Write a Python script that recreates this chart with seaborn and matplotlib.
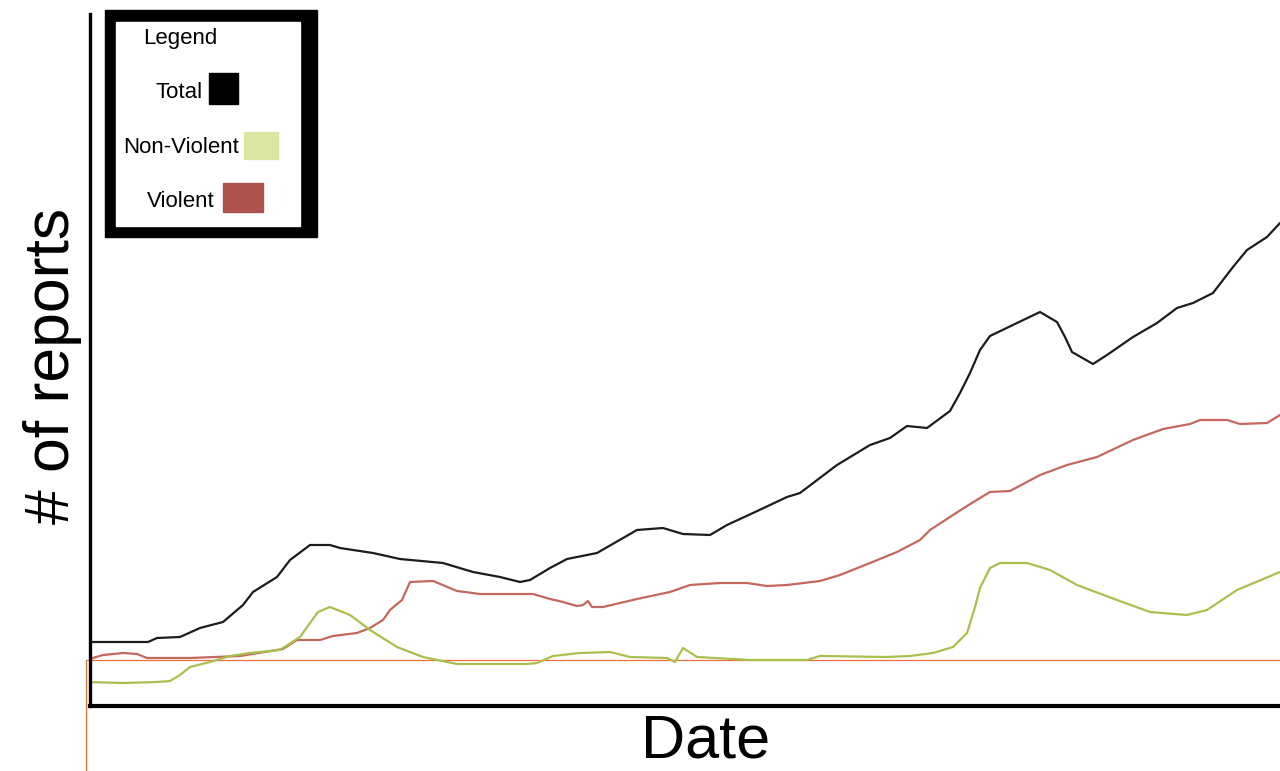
import pandas as pd
import matplotlib.pyplot as plt
import seaborn as sns

# reports over time (x = day index, y = reports)
total_days = [0, 58, 67, 90, 110, 133, 153, 163, 187, 200, 220, 240, 250, 283, 310, 353, 383, 410, 430, 440,
              460, 477, 507, 547, 573, 593, 620, 637, 663, 697, 710, 747, 780, 800, 817, 837, 860, 870, 880, 890,
              900, 927, 950, 967, 975, 982, 1003, 1017, 1043, 1067, 1087, 1103, 1123, 1143, 1157, 1177, 1190]
total_reports = [64, 64, 68, 69, 78, 84, 101, 114, 129, 146, 161, 161, 158, 153, 147, 143, 134, 129, 124, 126,
                 138, 147, 153, 176, 178, 172, 171, 181, 193, 209, 213, 241, 261, 268, 280, 278, 295, 313, 333, 356,
                 370, 383, 394, 384, 369, 354, 342, 351, 369, 383, 398, 403, 413, 439, 456, 469, 483]

violent_days = [-4, 13, 33, 47, 57, 100, 150, 193, 207, 230, 243, 267, 280, 293, 300, 312, 320, 343, 367, 390,
                443, 460, 473, 487, 493, 498, 502, 513, 547, 580, 600, 630, 657, 677, 697, 730, 750, 780, 807, 830,
                840, 863, 877, 890, 900, 920, 950, 977, 1007, 1043, 1073, 1100, 1110, 1137, 1150, 1177, 1190]
violent_reports = [46, 51, 53, 52, 48, 48, 50, 57, 66, 66, 70, 73, 78, 86, 96, 106, 124, 125, 115, 112,
                   112, 107, 104, 100, 101, 105, 99, 99, 107, 114, 121, 123, 123, 120, 121, 125, 131, 143, 154, 166,
                   176, 191, 200, 208, 214, 215, 231, 241, 249, 266, 277, 282, 286, 286, 282, 283, 291]

nonviolent_days = [-4, 33, 67, 80, 90, 100, 120, 140, 160, 190, 210, 228, 240, 260, 280, 307, 333, 367, 437, 447,
                   463, 490, 520, 540, 577, 585, 593, 607, 660, 717, 730, 797, 820, 843, 863, 877, 885, 890, 900, 910,
                   937, 960, 987, 1027, 1060, 1097, 1117, 1147, 1190]
nonviolent_reports = [24, 23, 24, 25, 31, 39, 44, 50, 53, 56, 69, 94, 99, 91, 76, 59, 49, 42, 42, 43,
                      50, 53, 54, 49, 48, 44, 58, 49, 46, 46, 50, 49, 50, 53, 59, 73, 99, 118, 138, 143,
                      143, 136, 121, 106, 94, 91, 96, 116, 134]

baseline = 46
legend_labels = ['Total', 'Non-Violent', 'Violent']
line_colors = {'Total': '#1c1c1c', 'Non-Violent': '#a9c04f', 'Violent': '#c4685d'}
swatch_colors = {'Total': '#000000', 'Non-Violent': '#dce6a4', 'Violent': '#ad524c'}

df = pd.concat([
    pd.DataFrame({'date': total_days, 'reports': total_reports, 'type': 'Total'}),
    pd.DataFrame({'date': violent_days, 'reports': violent_reports, 'type': 'Violent'}),
    pd.DataFrame({'date': nonviolent_days, 'reports': nonviolent_reports, 'type': 'Non-Violent'}),
])

sns.set_style('white')
plt.rcParams['font.family'] = ['Liberation Sans', 'DejaVu Sans']
plt.rcParams['text.color'] = 'black'
plt.rcParams['axes.labelcolor'] = 'black'

W, H = 1280, 771
fig = plt.figure(figsize=(12.8, 7.71), dpi=100)
ax = fig.add_axes([90 / W, 1 - 706 / H, 1190 / W, 692 / H])

sns.lineplot(data=df, x='date', y='reports', hue='type', palette=line_colors,
             estimator=None, sort=False, legend=False, linewidth=1.6, ax=ax)

# thin orange guide lines
ax.axhline(baseline, xmin=-4 / 1190, xmax=1, color='#e8703c', lw=0.9, clip_on=False, zorder=1)
ax.plot([-4, -4], [baseline, -65], color='#e8703c', lw=0.9, clip_on=False, zorder=1)

ax.set_xlim(0, 1190)
ax.set_ylim(0, 692)
ax.set_xticks([])
ax.set_yticks([])
sns.despine(ax=ax)
ax.spines['left'].set_linewidth(2.4)
ax.spines['bottom'].set_linewidth(3)
ax.spines['left'].set_color('black')
ax.spines['bottom'].set_color('black')

ax.set_xlabel('Date', fontsize=44, color='black')
ax.xaxis.set_label_coords((706 - 90) / 1190, -0.011)
ax.set_ylabel('# of reports', fontsize=45, color='black')
ax.yaxis.set_label_coords(-0.007, 0.492)


# hand drawn legend box
def fx(px):
    return px / W


def fy(py):
    return 1 - py / H


fig.add_artist(plt.Rectangle((fx(105), fy(237)), fx(317) - fx(105), fy(10) - fy(237),
                             transform=fig.transFigure, color='black', zorder=5))
fig.add_artist(plt.Rectangle((fx(116), fy(226)), fx(300) - fx(116), fy(22) - fy(226),
                             transform=fig.transFigure, color='white', zorder=6))
fig.text(fx(180), fy(44), 'Legend', fontsize=16, ha='center', va='baseline', color='black', zorder=7)

text_right = {'Total': 203, 'Non-Violent': 239, 'Violent': 215}
baselines = {'Total': 98, 'Non-Violent': 153, 'Violent': 207}
swatches = {'Total': (209, 73, 238, 104), 'Non-Violent': (244, 132, 278, 159), 'Violent': (223, 183, 263, 212)}
for lab in legend_labels:
    fig.text(fx(text_right[lab]), fy(baselines[lab]), lab, fontsize=16, ha='right', va='baseline',
             color='black', zorder=7)
    x0, y0, x1, y1 = swatches[lab]
    fig.add_artist(plt.Rectangle((fx(x0), fy(y1)), fx(x1) - fx(x0), fy(y0) - fy(y1),
                                 transform=fig.transFigure, color=swatch_colors[lab], zorder=7))

fig.savefig('out.png', dpi=100)
